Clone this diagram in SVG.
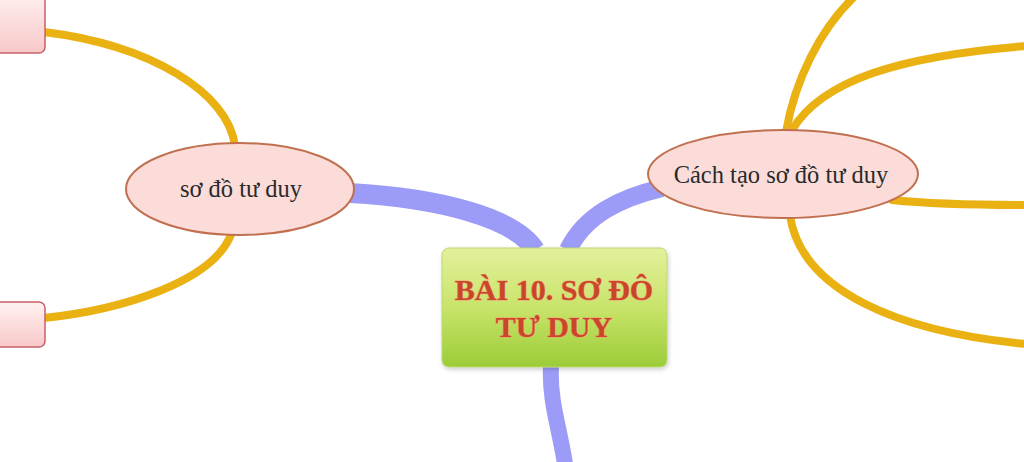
<svg xmlns="http://www.w3.org/2000/svg" width="1024" height="462" viewBox="0 0 1024 462">
<defs>
<linearGradient id="gGreen" x1="0" y1="0" x2="0" y2="1">
<stop offset="0" stop-color="#e3f09c"/>
<stop offset="0.5" stop-color="#c8e46a"/>
<stop offset="1" stop-color="#9ccc38"/>
</linearGradient>
<linearGradient id="gPink" x1="0" y1="0" x2="0" y2="1">
<stop offset="0" stop-color="#fff2f2"/>
<stop offset="1" stop-color="#f8c8c8"/>
</linearGradient>
<filter id="sh" x="-10%" y="-10%" width="120%" height="130%">
<feDropShadow dx="1" dy="2" stdDeviation="2" flood-color="#000" flood-opacity="0.2"/>
</filter>
</defs>
<style>
.y{fill:none;stroke:#e9b212;stroke-width:8;stroke-linecap:round}
.b{fill:none;stroke:#9c9cf8;stroke-linecap:butt}
.ell{fill:#fbdcd9;stroke:#c07050;stroke-width:2}
.sub{fill:url(#gPink);stroke:#c86068;stroke-width:1.5}
.t{font-family:"Liberation Serif","Times New Roman",serif;fill:#2a2a2a;text-anchor:middle}
.ct{font-family:"Liberation Serif","Times New Roman",serif;fill:#c8462a;stroke:#f2a070;stroke-width:1.2;paint-order:stroke;font-weight:bold;text-anchor:middle;font-size:30px}
</style>
<rect width="1024" height="462" fill="#fff"/>
<g id="connectors">
<path class="y" d="M44,32 C150,45 228,92 235,146"/>
<path class="y" d="M232,232 C215,282 120,310 44,318"/>
<path class="y" d="M786,132 C795,80 820,30 853,-2"/>
<path class="y" d="M792,130 C822,80 900,56 1026,46"/>
<path class="y" d="M892,200 C930,204 980,205 1026,205"/>
<path class="y" d="M790,216 C802,292 900,332 1026,344"/>
<path class="b" stroke-width="20" d="M350,193 C440,198 515,218 535,250"/>
<path class="b" stroke-width="18" d="M568,250 C585,215 620,198 662,188"/>
<path class="b" stroke-width="16" d="M551,366 C549,400 560,430 565,464"/>
</g>
<g id="node-left-top">
<rect class="sub" x="-10" y="-10" width="55" height="63" rx="6"/>
</g>
<g id="node-left-bottom">
<rect class="sub" x="-10" y="302" width="55" height="45" rx="6"/>
</g>
<g id="node-left">
<ellipse class="ell" cx="240" cy="189" rx="114" ry="46"/>
<text class="t" x="241" y="197" font-size="24.5">sơ đồ tư duy</text>
</g>
<g id="node-right">
<ellipse class="ell" cx="783" cy="174" rx="135" ry="44"/>
<text class="t" x="781" y="183" font-size="24.5">Cách tạo sơ đồ tư duy</text>
</g>
<g id="node-center">
<rect x="442" y="248" width="225" height="119" rx="7" fill="url(#gGreen)" stroke="#b8d870" stroke-width="1" filter="url(#sh)"/>
<text class="ct" x="554" y="300">BÀI 10. SƠ ĐÔ</text>
<text class="ct" x="554" y="337">TƯ DUY</text>
</g>
</svg>
